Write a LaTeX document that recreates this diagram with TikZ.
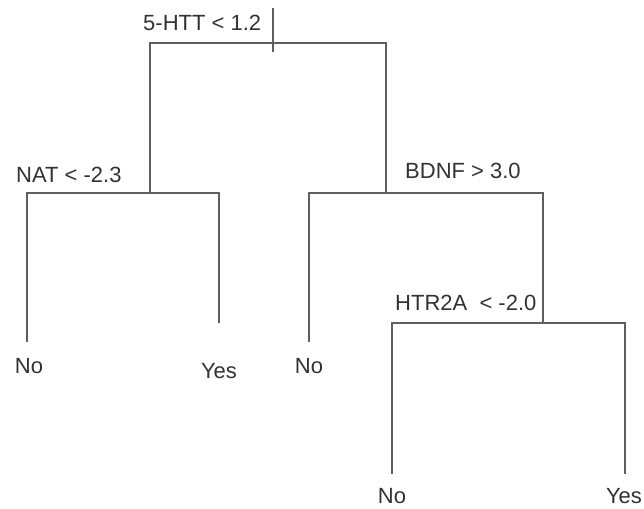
\documentclass[tikz,border=0pt]{standalone}
\usepackage{fontspec}
\setmainfont{Liberation Sans}
\usetikzlibrary{positioning}
\definecolor{linegray}{RGB}{95,95,95}
\definecolor{txtgray}{RGB}{50,50,50}

\begin{document}
\begin{tikzpicture}[x=1pt, y=-1pt,
    cond/.style={inner sep=0pt, anchor=base west, text=txtgray, font=\fontsize{22}{26}\selectfont},
    leaf/.style={inner sep=0pt, anchor=base, text=txtgray, font=\fontsize{22}{26}\selectfont},
    branch/.style={draw=linegray, line width=1.8pt}
]
\useasboundingbox (0,0) rectangle (644,508);

% split points
\coordinate (top) at (273,8);
\coordinate (s1) at (273,43);
\coordinate (s1low) at (273,52);
\coordinate (s2) at (150,193);
\coordinate (s3) at (386,193);
\coordinate (s4) at (543,323);

% line ends above the leaves
\coordinate (e1) at (27,342);
\coordinate (e2) at (219,323);
\coordinate (e3) at (309,342);
\coordinate (e4) at (392,474);
\coordinate (e5) at (625,474);

\node[cond] (c1) at (143,31) {5-HTT < 1.2};
\node[cond] (c2) at (16,182) {NAT < -2.3};
\node[cond] (c3) at (405,178) {BDNF > 3.0};
\node[cond] (c4) at (395,310) {HTR2A\ \ < -2.0};

\node[leaf] (l1) at (29,373) {No};
\node[leaf] (l2) at (219,378) {Yes};
\node[leaf] (l3) at (309,373) {No};
\node[leaf] (l4) at (392,503) {No};
\node[leaf] (l5) at (624,503) {Yes};

\draw[branch] (top) -- (s1low);
\draw[branch] (s2) |- (s1) -| (s3);
\draw[branch] (e1) |- (s2) -| (e2);
\draw[branch] (e3) |- (s3) -| (s4);
\draw[branch] (e4) |- (s4) -| (e5);
\end{tikzpicture}
\end{document}
